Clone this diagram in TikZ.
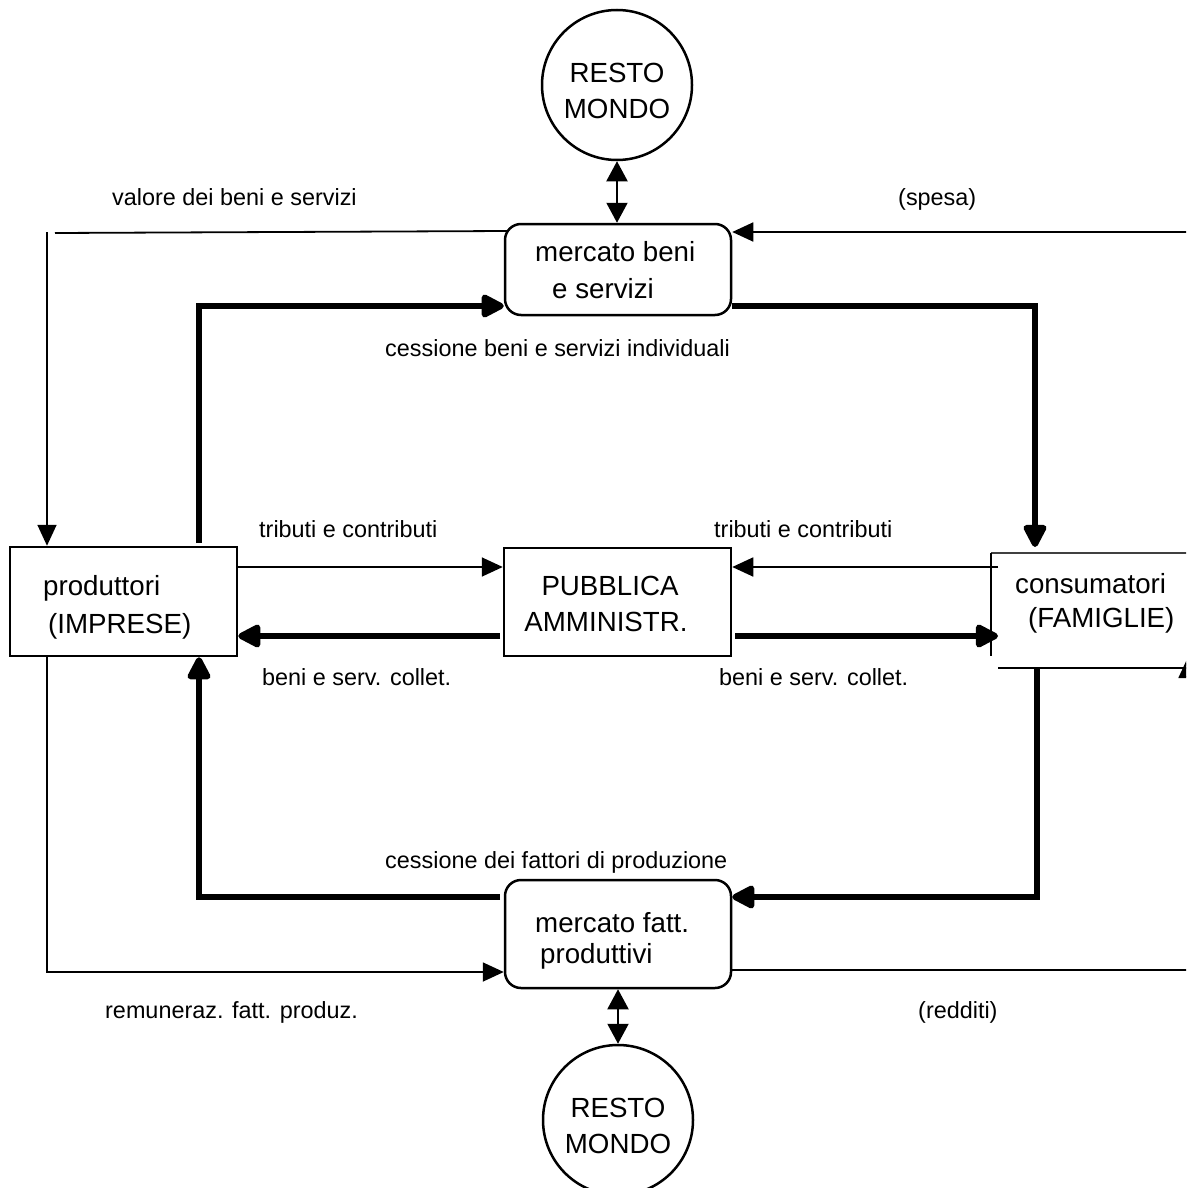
\documentclass[tikz,border=0pt]{standalone}
\usepackage{fontspec}
\setmainfont{Liberation Sans}
\usetikzlibrary{arrows.meta}
\begin{document}
\begin{tikzpicture}[x=1pt,y=-1pt,
  thinline/.style={line width=1.8pt},
  thickline/.style={line width=6pt},
  thinarrow/.style={thinline,-{Triangle[length=21pt,width=19pt]}},
  thickarrow/.style={thickline,-{Triangle[length=26pt,width=25pt,round]}},
  dblarrow/.style={line width=2pt,{Triangle[length=20pt,width=21pt]}-{Triangle[length=20pt,width=21pt]}},
  boxtext/.style={font=\fontsize{27.7}{33}\selectfont, anchor=base west, inner sep=0},
  boxtextc/.style={boxtext, anchor=base},
  lbl/.style={font=\fontsize{23.4}{28}\selectfont, anchor=base west, inner sep=0},
  rbox/.style={draw, line width=2.5pt, rounded corners=16pt, minimum width=226pt, minimum height=91pt, inner sep=0},
  sbox/.style={draw, line width=2.5pt, inner sep=0},
  world/.style={draw, circle, line width=2.5pt, minimum size=150pt, inner sep=0},
  openbox/.style={line width=1.4pt}
]
\useasboundingbox (0,0) rectangle (1186,1188);
\clip (0,0) rectangle (1186,1188);

% shapes
\node[world] (rwT) at (617,85) {};
\node[rbox] (mb) at (618,269.5) {};
\node[rbox, minimum height=108pt] (mf) at (618,934) {};
\node[world] (rwB) at (618,1120) {};
\node[sbox, minimum width=227pt, minimum height=109pt] (pr) at (123.5,601.5) {};
\node[sbox, minimum width=227pt, minimum height=108pt] (pa) at (617.5,602) {};
\node[minimum width=200pt, minimum height=115pt, inner sep=0, outer sep=0] (co) at (1091,610.5) {};
\draw[openbox, black!75] (co.north west) -- (co.north east);
\draw[openbox] (co.north west) -- ++(0,103);
\draw[openbox] ([xshift=7pt]co.south west) -- (co.south east);

% texts in shapes
\node[boxtextc] (rt1) at (617,83) {RESTO};
\node[boxtextc] (rt2) at (617,118) {MONDO};
\node[boxtext] (mb1) at (535,261) {mercato beni};
\node[boxtext] (mb2) at (552,298) {e servizi};
\node[boxtext] (pr1) at (43,595) {produttori};
\node[boxtext] (pr2) at (48,633) {(IMPRESE)};
\node[boxtextc] (pa1) at (610,595) {PUBBLICA};
\node[boxtextc] (pa2) at (606,631) {AMMINISTR.};
\node[boxtext] (co1) at (1015,593) {consumatori};
\node[boxtext] (co2) at (1028,627) {(FAMIGLIE)};
\node[boxtext] (mf1) at (535,932) {mercato fatt.};
\node[boxtext] (mf2) at (540,963) {produttivi};
\node[boxtextc] (rb1) at (618,1117) {RESTO};
\node[boxtextc] (rb2) at (618,1153) {MONDO};

% labels
\node[lbl] (l1) at (112,205) {valore dei beni e servizi};
\node[lbl] (l2) at (898,205) {(spesa)};
\node[lbl] (l3) at (385,356) {cessione beni e servizi individuali};
\node[lbl] (l4) at (259,537) {tributi e contributi};
\node[lbl] (l5) at (714,537) {tributi e contributi};
\node[lbl] (l6) at (262,685) {beni e serv. collet.};
\node[lbl] (l7) at (719,685) {beni e serv. collet.};
\node[lbl] (l8) at (385,868) {cessione dei fattori di produzione};
\node[lbl] (l9) at (105,1018) {remuneraz. fatt. produz.};
\node[lbl] (l10) at (918,1018) {(redditi)};

% coordinates
\coordinate (vA) at (507,231);
\coordinate (vB) at (55,233);
\coordinate (vC) at (47,232);
\coordinate (sp) at (1195,232);
\coordinate (c0) at (199,543);
\coordinate (c1) at (199,306);
\coordinate (c2) at (1035,306);
\coordinate (c3) at (1035,547);
\coordinate (t1) at (237,567);
\coordinate (t2) at (998,567);
\coordinate (b1) at (500,636);
\coordinate (b2) at (735,636);
\coordinate (b3) at (998,636);
\coordinate (d1) at (1037,668);
\coordinate (d2) at (1037,897);
\coordinate (e1) at (500,897);
\coordinate (e2) at (199,897);
\coordinate (f1) at (47,972);
\coordinate (g1) at (1188,970);
\coordinate (g2) at (1188,657);

% connectors
\draw[dblarrow] (rwT.south) -- (rwT.south |- mb.north);
\draw[dblarrow] (mf.south) -- (mf.south |- rwB.north);
\draw[thinline] (vA) -- (vB);
\draw[thinarrow] (vC) -- (vC |- pr.north);
\draw[thinarrow] (sp) -- (sp -| mb.east);
\draw[thickarrow] (c0) -- (c1) -- (c1 -| mb.west);
\draw[thickarrow] (mb.east |- c2) -- (c2) -- (c3);
\draw[thinarrow] (t1) -- (t1 -| pa.west);
\draw[thinarrow] (t2) -- (t2 -| pa.east);
\draw[thickarrow] (b1) -- (b1 -| pr.east);
\draw[thickarrow] (b2) -- (b3);
\draw[thickarrow] (d1) -- (d2) -- (d2 -| mf.east);
\draw[thickarrow] (e1) -- (e2) -- (e2 |- pr.south);
\draw[thinarrow] (f1 |- pr.south) -- (f1) -- (f1 -| mf.west);
\draw[thinarrow] (g1 -| mf.east) -- (g1) -- (g2);
\end{tikzpicture}
\end{document}
